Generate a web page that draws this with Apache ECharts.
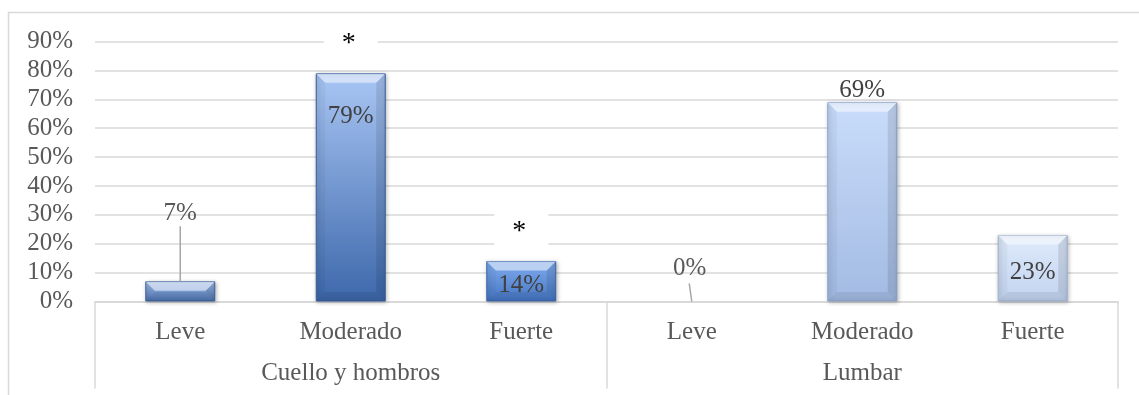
<!DOCTYPE html>
<html>
<head>
<meta charset="utf-8">
<script src="https://cdn.jsdelivr.net/npm/echarts@6/dist/echarts.min.js"></script>
<style>
  html, body { margin: 0; padding: 0; background: #fff; }
  #chart { width: 1139px; height: 395px; }
</style>
</head>
<body>
<div id="chart"></div>
<script>
// Pain intensity by body region
const categories = ['Leve', 'Moderado', 'Fuerte', 'Leve', 'Moderado', 'Fuerte'];
const groups = ['Cuello y hombros', 'Lumbar'];
const values = [0.07, 0.79, 0.14, 0, 0.69, 0.23];
const yTickMin = 0;
const yTickMax = 0.9;
const yTickStep = 0.1;
// categories flagged with an asterisk (significant difference)
const starredIndex = [1, 2];

// ---- styling ----
const FONT = 'Liberation Serif';
const AXIS_TEXT = '#595959';
const LABEL_TEXT = '#404040';
const GRID_LINE = '#d9d9d9';
const BAR_WIDTH = 70;

// vertical gradient per bar: [top, bottom, edge]
const barShades = [
  ['#a3c0ec', '#4d74b2', '#41659f'],
  ['#a9c6f4', '#3d68ab', '#37609f'],
  ['#80acee', '#4576c4', '#3e6bb0'],
  ['#c9dcfa', '#a3bbe3', '#8aa3cc'],
  ['#c9dcfa', '#a3bbe3', '#8ea6cf'],
  ['#dfeafb', '#c2d4f0', '#a3b7d6']
];

// label placement (style): inside top / on top with distances
const labelPlacement = {
  1: { position: 'insideTop', distance: 30 },
  2: { position: 'insideTop', distance: 11 },
  4: { position: 'top', distance: -1 },
  5: { position: 'insideTop', distance: 24 }
};
// labels lifted above short bars with a leader line (pixel offsets)
const liftedLabels = {
  0: { dx: 0, labelY: -68, lineFrom: -55, lineDx: 0 },
  3: { dx: -2, labelY: -33, lineFrom: -18, lineDx: -2.5 }
};
// asterisk boxes: vertical position in axis units and box size (style)
const starPlacement = {
  1: { at: 0.91, boxW: 54, boxTop: -26, boxH: 40 },
  2: { at: 0.258, boxW: 54, boxTop: -22, boxH: 47 }
};

const pct = v => Math.round(v * 100) + '%';

const chart = echarts.init(document.getElementById('chart'), null, { renderer: 'canvas' });

const barData = values.map((v, i) => {
  const s = barShades[i];
  const lp = labelPlacement[i];
  const visible = v > 0;
  return {
    value: v,
    itemStyle: {
      color: new echarts.graphic.LinearGradient(0, 0, 0, 1, [
        { offset: 0, color: s[0] },
        { offset: 1, color: s[1] }
      ]),
      borderColor: s[2],
      borderWidth: visible ? 1 : 0,
      shadowBlur: visible ? 4 : 0,
      shadowColor: visible ? 'rgba(0,0,0,0.28)' : 'transparent',
      shadowOffsetX: 1,
      shadowOffsetY: 1
    },
    label: lp ? { show: true, position: lp.position, distance: lp.distance } : { show: false }
  };
});

function bevelItem(params, api) {
  const i = api.value(0);
  const v = api.value(1);
  if (!v) return null;
  const top = api.coord([i, v]);
  const base = api.coord([i, 0]);
  const x0 = top[0] - BAR_WIDTH / 2 + 0.5;
  const x1 = top[0] + BAR_WIDTH / 2 - 0.5;
  const yT = top[1] + 0.5;
  const yB = base[1] - 0.5;
  const b = Math.min(9, (yB - yT) / 2);
  return {
    type: 'group',
    children: [
      { type: 'polygon', shape: { points: [[x0, yT], [x1, yT], [x1 - b, yT + b], [x0 + b, yT + b]] },
        style: { fill: 'rgba(255,255,255,0.5)' } },
      { type: 'polygon', shape: { points: [[x0, yB], [x1, yB], [x1 - b, yB - b], [x0 + b, yB - b]] },
        style: { fill: 'rgba(0,0,0,0.08)' } },
      { type: 'polygon', shape: { points: [[x0, yT], [x0 + b, yT + b], [x0 + b, yB - b], [x0, yB]] },
        style: { fill: 'rgba(0,0,0,0.04)' } },
      { type: 'polygon', shape: { points: [[x1, yT], [x1 - b, yT + b], [x1 - b, yB - b], [x1, yB]] },
        style: { fill: 'rgba(0,0,0,0.1)' } }
    ]
  };
}

function liftedLabelItem(params, api) {
  const i = api.value(0);
  const v = api.value(1);
  const cfg = liftedLabels[i];
  const p = api.coord([i, v]);
  return {
    type: 'group',
    children: [
      { type: 'line',
        shape: { x1: p[0] + cfg.lineDx, y1: p[1] + cfg.lineFrom, x2: p[0], y2: p[1] },
        style: { stroke: '#a6a6a6', lineWidth: 1.5 } },
      { type: 'text',
        style: { x: p[0] + cfg.dx, y: p[1] + cfg.labelY, text: pct(v), fill: AXIS_TEXT,
                 font: '25px "' + FONT + '"', align: 'center', verticalAlign: 'middle' } }
    ]
  };
}

function starItem(params, api) {
  const i = api.value(0);
  const cfg = starPlacement[i];
  const p = api.coord([i, cfg.at]);
  return {
    type: 'group',
    children: [
      { type: 'rect',
        shape: { x: p[0] - cfg.boxW / 2, y: p[1] + cfg.boxTop, width: cfg.boxW, height: cfg.boxH },
        style: { fill: '#ffffff' } },
      { type: 'text',
        style: { x: p[0] - 2, y: p[1] + 5, text: '*', fill: '#000000',
                 font: '28px "' + FONT + '"', align: 'center', verticalAlign: 'middle' } }
    ]
  };
}

const option = {
  animation: false,
  backgroundColor: '#ffffff',
  textStyle: { fontFamily: FONT },
  grid: { left: 95, right: 21, top: 41.5, bottom: 93.5, containLabel: false },
  graphic: [{
    type: 'rect',
    z: 100,
    shape: { x: 8.5, y: 12.5, width: 1300, height: 600 },
    style: { fill: 'none', stroke: GRID_LINE, lineWidth: 1.5 },
    silent: true
  }],
  xAxis: [
    {
      type: 'category',
      data: categories,
      position: 'bottom',
      axisLine: { show: true, lineStyle: { color: GRID_LINE, width: 1.5 } },
      axisTick: { show: false },
      axisLabel: { color: AXIS_TEXT, fontFamily: FONT, fontSize: 25, lineHeight: 28, margin: 17, interval: 0 }
    },
    {
      type: 'category',
      data: groups,
      position: 'bottom',
      boundaryGap: true,
      axisLine: { show: true, lineStyle: { color: GRID_LINE, width: 1.5 } },
      axisTick: { show: true, length: 87, interval: 0, lineStyle: { color: GRID_LINE, width: 1.5 } },
      axisLabel: { color: AXIS_TEXT, fontFamily: FONT, fontSize: 25, lineHeight: 28, margin: 58, interval: 0 }
    }
  ],
  yAxis: {
    type: 'value',
    min: yTickMin,
    max: yTickMax,
    interval: yTickStep,
    axisLine: { show: false },
    axisTick: { show: false },
    splitLine: { lineStyle: { color: GRID_LINE, width: 1.5 } },
    axisLabel: { color: AXIS_TEXT, fontFamily: FONT, fontSize: 25, margin: 22, padding: [4, 0, 0, 0], formatter: v => pct(v) }
  },
  series: [
    {
      type: 'bar',
      xAxisIndex: 0,
      barWidth: BAR_WIDTH,
      data: barData,
      label: {
        color: LABEL_TEXT,
        fontFamily: FONT,
        fontSize: 25,
        lineHeight: 26,
        formatter: p => pct(p.value)
      }
    },
    {
      type: 'custom',
      xAxisIndex: 0,
      renderItem: bevelItem,
      data: values.map((v, i) => [i, v]),
      z: 3,
      silent: true
    },
    {
      type: 'custom',
      xAxisIndex: 0,
      renderItem: liftedLabelItem,
      data: Object.keys(liftedLabels).map(k => [Number(k), values[Number(k)]]),
      z: 4,
      silent: true
    },
    {
      type: 'custom',
      xAxisIndex: 0,
      renderItem: starItem,
      data: starredIndex.map(i => [i, values[i]]),
      z: 5,
      silent: true
    }
  ]
};

chart.setOption(option);
</script>
</body>
</html>
